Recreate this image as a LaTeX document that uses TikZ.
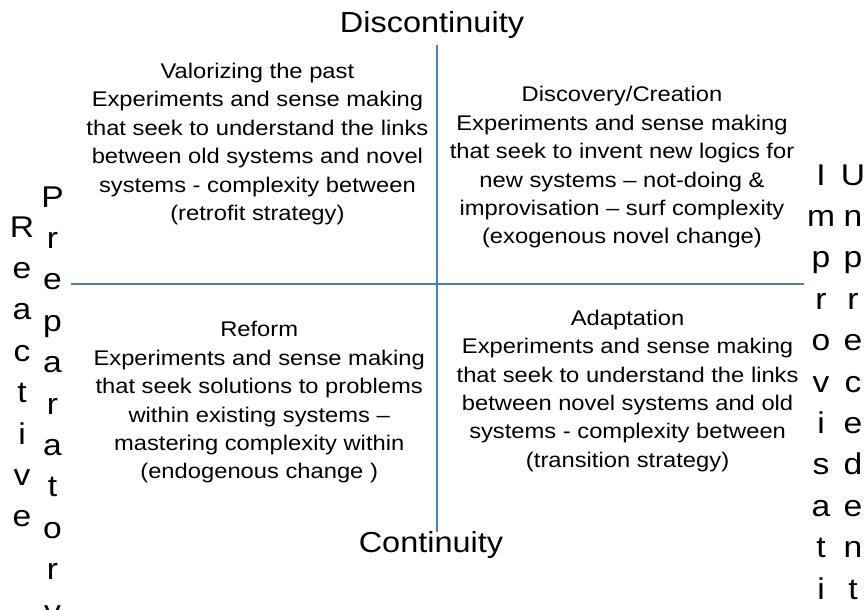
\documentclass[tikz,border=0pt]{standalone}
\usepackage{fontspec}
\setmainfont{Liberation Sans}[FakeStretch=1.12]
\definecolor{axisblue}{RGB}{74,126,187}
\begin{document}
\begin{tikzpicture}[x=1pt,y=-1pt,
  axis/.style={draw=axisblue,line width=2pt},
  heading/.style={inner sep=0pt,anchor=base,font=\fontsize{29}{34}\selectfont},
  quad/.style={inner sep=0pt,anchor=north,align=center,font=\fontsize{21.2}{28.4}\selectfont},
  vword/.style={inner sep=0pt,anchor=north,align=center,font=\fontsize{30}{41.4}\selectfont}]
\useasboundingbox (0,0) rectangle (868,610);
% axes
\coordinate (vtop) at (437,45);
\coordinate (vbot) at (437,532);
\coordinate (hl) at (71,284);
\coordinate (hr) at (804,284);
\draw[axis] (vtop) -- (vbot);
\draw[axis] (hl) -- (hr);
% headings
\node[heading] (disc) at (432,33) {Discontinuity};
\node[heading] (cont) at (431,552) {Continuity};
% quadrants
\node[quad] (tl) at (257.4,78.3-19.9) {\strut Valorizing the past\\Experiments and sense making\\that seek to understand the links\\between old systems and novel\\systems - complexity between\\(retrofit strategy)};
\node[quad] (tr) at (622,101.7-19.9) {\strut Discovery/Creation\\Experiments and sense making\\that seek to invent new logics for\\new systems – not-doing \&\\improvisation – surf complexity\\(exogenous novel change)};
\node[quad] (bl) at (259.2,336.8-19.9) {\strut Reform\\Experiments and sense making\\that seek solutions to problems\\within existing systems –\\mastering complexity within\\(endogenous change )};
\node[quad] (br) at (627.6,325.2-19.9) {\strut Adaptation\\Experiments and sense making\\that seek to understand the links\\between novel systems and old\\systems - complexity between\\(transition strategy)};
% vertical words
\node[vword] (reactive) at (22,237-29) {\strut R\\e\\a\\c\\t\\i\\v\\e};
\node[vword] (prep) at (52.5,207-29) {\strut P\\r\\e\\p\\a\\r\\a\\t\\o\\r\\y};
\node[vword] (improv) at (821,185-29) {\strut I\\m\\p\\r\\o\\v\\i\\s\\a\\t\\i};
\node[vword] (unprec) at (853,185-29) {\strut U\\n\\p\\r\\e\\c\\e\\d\\e\\n\\t};
\end{tikzpicture}
\end{document}
